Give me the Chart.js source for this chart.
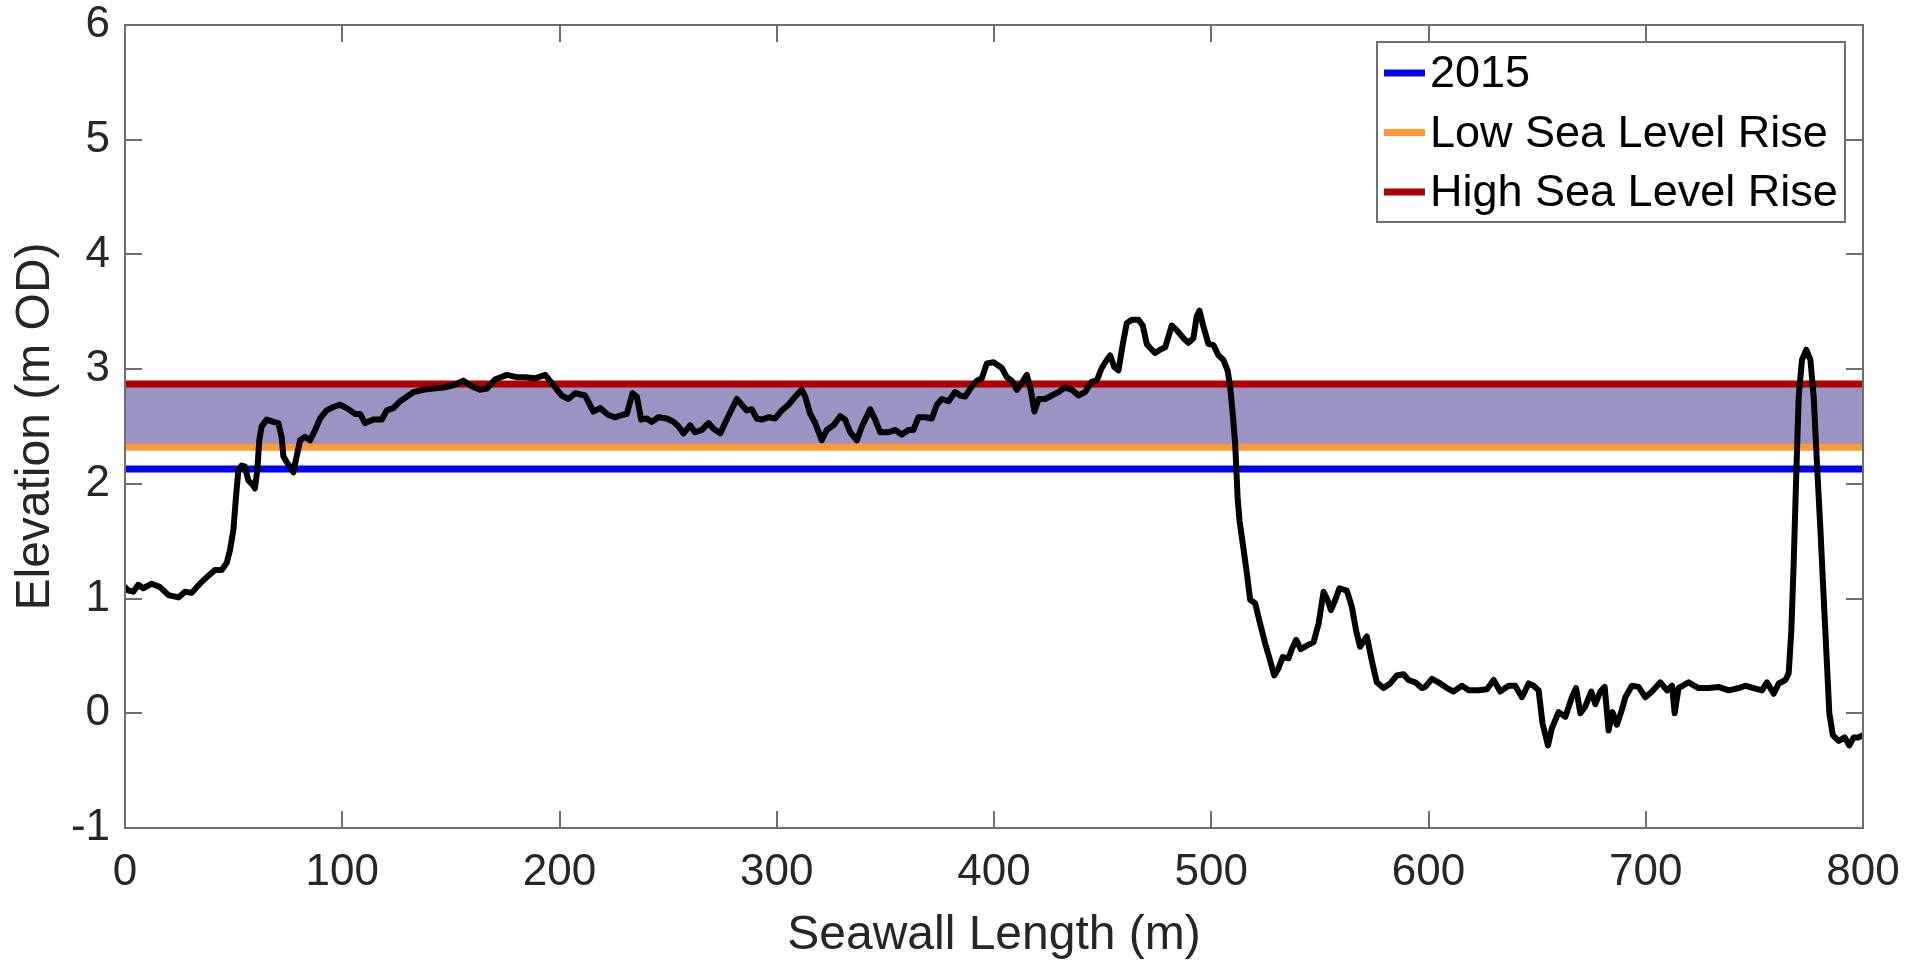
<!DOCTYPE html>
<html>
<head>
<meta charset="utf-8">
<title>Seawall elevation profile</title>
<script src="https://cdn.jsdelivr.net/npm/chart.js@4.4.1/dist/chart.umd.min.js"></script>
<style>
  html, body { margin: 0; padding: 0; background: #fff; }
  #wrap { width: 1921px; height: 965px; }
</style>
</head>
<body>
<div id="wrap"><canvas id="chart" width="1921" height="965"></canvas></div>
<script>
// Seawall crest profile (distance along wall in m, elevation in m OD)
const seawallX = [
  0, 1.5, 3.8, 6.1, 8.4, 12.3, 16.1, 20, 24.6, 27.6, 30.7, 34.5, 38.4, 41.4, 44.5, 46.8, 48.3, 49.9, 51.1, 52.2,
  53.7, 55.2, 56.8, 58.8, 59.8, 60.9, 61.8, 62.9, 65.2, 68.3, 70.6, 72.1, 72.9, 74.4, 76.0, 77.5, 79.0, 80.6, 82.8, 85.2,
  87.5, 89.8, 92.8, 95.9, 99.0, 102.1, 105.9, 108.2, 110.5, 114.3, 118.2, 120.5, 123.5, 126.6, 129.7, 132.7, 137.4, 142, 146.6, 151.2,
  155.8, 159.6, 163.4, 166.5, 170.3, 175.7, 180.3, 184.2, 188.8, 193.4, 197.2, 201.0, 204.1, 207.2, 211.8, 215.6, 218.7, 222.5, 225.6, 228.7,
  231.0, 233.6, 235.6, 237.6, 240.2, 242.5, 245.5, 249.4, 252.5, 254.8, 257.1, 260.1, 262.4, 265.5, 268.6, 270.9, 274.0, 276.2, 279.0, 281.6,
  283.9, 286.2, 288.5, 290.8, 293.1, 296.2, 299.3, 302.3, 305.4, 308.5, 311.5, 313.1, 315.4, 317.7, 320.7, 323.0, 326.1, 329.2, 331.5, 333.8,
  336.9, 339.2, 343.0, 345.3, 347.6, 351.4, 354.5, 357.6, 360.6, 362.9, 365.2, 368.3, 371.4, 373.7, 376.0, 379.1, 382.1, 384.4, 386.7, 389.8,
  392.1, 394.4, 396.7, 399.8, 403.6, 405.9, 408.2, 410.5, 412.8, 415.1, 416.9, 418.6, 420.5, 423.5, 426.6, 429.7, 432.7, 435.8, 438.9, 441.9,
  445.0, 447.3, 449.6, 451.9, 453.5, 455.3, 457.3, 459.3, 461.1, 463.4, 466.5, 468.5, 470.3, 472.6, 474.2, 476.5, 478.8, 481.8, 484.1, 487.2,
  489.5, 491.8, 493.3, 494.6, 496.4, 498.7, 501.0, 503.3, 505.6, 507.5, 508.7, 509.9, 511.0, 511.5, 512.1, 513.0, 514.5, 516.4, 517.9, 520.2,
  522.5, 524.8, 527.1, 529.0, 530.9, 532.9, 535.6, 537.1, 539.1, 541.2, 544.0, 547.1, 549.4, 551.7, 553.5, 555.1, 557.1, 559.0, 562.4, 564.7,
  566.7, 568.5, 571.6, 573.9, 576.2, 579.3, 582.4, 585.4, 588.5, 590.8, 593.9, 596.9, 598.5, 601.6, 605.4, 608.5, 611.5, 615.4, 618.5, 623.1,
  626.9, 630.0, 633.0, 636.9, 639.9, 643.0, 646.1, 648.4, 650.7, 652.5, 655.0, 656.8, 659.9, 663.0, 666.0, 667.9, 669.9, 672.2, 674.9, 676.8,
  679.1, 681.1, 682.9, 684.7, 686.7, 689.0, 690.6, 693.6, 696.7, 699.8, 702.9, 706.7, 709.8, 712.1, 713.3, 715.1, 719.7, 724.3, 729.0, 733.5,
  738.2, 742.8, 745.8, 749.7, 753.5, 755.8, 758.9, 761.2, 764.3, 765.8, 767.0, 768.1, 769.2, 770.4, 771.9, 773.9, 775.8, 777.3, 778.8, 780.4,
  781.9, 783.4, 784.5, 786.1, 788.8, 791.6, 793.7, 795.7, 798.0, 800
]
const elevation = [
  1.10, 1.07, 1.06, 1.12, 1.09, 1.13, 1.10, 1.03, 1.01, 1.06, 1.05, 1.13, 1.20, 1.25, 1.25, 1.31, 1.42, 1.60, 1.89, 2.12,
  2.16, 2.15, 2.03, 1.99, 1.96, 2.12, 2.38, 2.50, 2.56, 2.54, 2.53, 2.41, 2.24, 2.19, 2.15, 2.10, 2.24, 2.38, 2.41, 2.38,
  2.47, 2.57, 2.64, 2.67, 2.69, 2.66, 2.61, 2.61, 2.53, 2.56, 2.56, 2.64, 2.66, 2.72, 2.76, 2.80, 2.82, 2.83, 2.84, 2.86,
  2.90, 2.85, 2.82, 2.83, 2.91, 2.95, 2.93, 2.93, 2.92, 2.95, 2.86, 2.77, 2.74, 2.79, 2.77, 2.63, 2.66, 2.60, 2.58, 2.60,
  2.61, 2.79, 2.76, 2.56, 2.57, 2.54, 2.58, 2.57, 2.54, 2.50, 2.44, 2.51, 2.45, 2.47, 2.53, 2.48, 2.44, 2.53, 2.64, 2.74,
  2.69, 2.64, 2.65, 2.57, 2.56, 2.58, 2.57, 2.64, 2.69, 2.76, 2.82, 2.76, 2.61, 2.53, 2.38, 2.47, 2.51, 2.59, 2.56, 2.45,
  2.38, 2.50, 2.65, 2.56, 2.45, 2.45, 2.47, 2.43, 2.47, 2.47, 2.58, 2.58, 2.57, 2.69, 2.74, 2.72, 2.80, 2.77, 2.76, 2.85,
  2.90, 2.92, 3.05, 3.06, 3.01, 2.93, 2.90, 2.82, 2.88, 2.95, 2.82, 2.63, 2.74, 2.74, 2.77, 2.80, 2.84, 2.82, 2.77, 2.80,
  2.89, 2.90, 3.01, 3.08, 3.12, 3.02, 2.99, 3.22, 3.40, 3.43, 3.43, 3.38, 3.22, 3.17, 3.14, 3.17, 3.19, 3.38, 3.34, 3.27,
  3.23, 3.27, 3.46, 3.51, 3.37, 3.22, 3.21, 3.12, 3.08, 2.99, 2.85, 2.61, 2.35, 2.15, 1.89, 1.68, 1.48, 1.22, 0.99, 0.96,
  0.78, 0.61, 0.46, 0.33, 0.39, 0.49, 0.48, 0.56, 0.64, 0.56, 0.59, 0.62, 0.78, 1.06, 0.99, 0.90, 0.99, 1.09, 1.07, 0.93,
  0.72, 0.58, 0.67, 0.46, 0.27, 0.22, 0.26, 0.33, 0.34, 0.29, 0.27, 0.22, 0.23, 0.30, 0.26, 0.22, 0.19, 0.24, 0.20, 0.20,
  0.21, 0.29, 0.19, 0.24, 0.24, 0.14, 0.26, 0.24, 0.20, -0.09, -0.28, -0.13, 0.01, -0.03, 0.14, 0.22, 0.00, 0.06, 0.19, 0.08,
  0.19, 0.23, -0.15, 0.01, -0.10, 0.03, 0.14, 0.24, 0.23, 0.14, 0.19, 0.27, 0.20, 0.24, 0.00, 0.22, 0.27, 0.22, 0.22, 0.23,
  0.20, 0.22, 0.24, 0.22, 0.20, 0.27, 0.17, 0.26, 0.29, 0.35, 0.72, 1.31, 2.03, 2.76, 3.08, 3.17, 3.08, 2.76, 2.18, 1.60,
  1.01, 0.43, 0.00, -0.19, -0.24, -0.21, -0.28, -0.21, -0.21, -0.19
]

// Water levels (m OD)
const levelNames = ['2015', 'Low Sea Level Rise', 'High Sea Level Rise']
const levelValues = [2.13, 2.32, 2.87]
const levelColors = ['#0000ff', '#ff9933', '#b00000']
const bandColor = 'rgb(153,148,196)'

const xTicks = [0, 100, 200, 300, 400, 500, 600, 700, 800]
const yTicks = [-1, 0, 1, 2, 3, 4, 5, 6]

const FONT = '"Liberation Sans", Arial, Helvetica, sans-serif'
const AXIS_COLOR = '#6e6e6e'
const TEXT_COLOR = '#262626'
const TICK_LEN = 17

const xMin = xTicks[0], xMax = xTicks[xTicks.length - 1]

const levelDatasets = levelValues.map((v, i) => ({
  label: levelNames[i],
  data: [{ x: xMin, y: v }, { x: xMax, y: v }],
  borderColor: levelColors[i],
  backgroundColor: i === 2 ? bandColor : 'transparent',
  borderWidth: 7,
  pointRadius: 0,
  fill: i === 2 ? '-1' : false,
}))

// inward ticks on all four sides + box, like the original plot
const framePlugin = {
  id: 'frame',
  afterDatasetsDraw(chart) {
    const { ctx, chartArea: a, scales: { x, y } } = chart
    ctx.save()
    ctx.strokeStyle = AXIS_COLOR
    ctx.lineWidth = 2
    ctx.beginPath()
    x.ticks.forEach(t => {
      const px = Math.round(x.getPixelForValue(t.value))
      ctx.moveTo(px, a.bottom); ctx.lineTo(px, a.bottom - TICK_LEN)
      ctx.moveTo(px, a.top); ctx.lineTo(px, a.top + TICK_LEN)
    })
    y.ticks.forEach(t => {
      const py = Math.round(y.getPixelForValue(t.value))
      ctx.moveTo(a.left, py); ctx.lineTo(a.left + TICK_LEN, py)
      ctx.moveTo(a.right, py); ctx.lineTo(a.right - TICK_LEN, py)
    })
    ctx.stroke()
    ctx.strokeRect(a.left, a.top, a.right - a.left, a.bottom - a.top)
    ctx.restore()
  }
}

// legend box in the upper right corner of the plot
const boxLegend = {
  id: 'boxLegend',
  afterDraw(chart) {
    const { ctx, chartArea: a } = chart
    const w = 468, h = 180
    const left = a.right - 18 - w, top = a.top + 17
    ctx.save()
    ctx.fillStyle = '#fff'
    ctx.fillRect(left, top, w, h)
    ctx.strokeStyle = AXIS_COLOR
    ctx.lineWidth = 2
    ctx.strokeRect(left, top, w, h)
    ctx.font = '45px ' + FONT
    ctx.textBaseline = 'middle'
    ctx.textAlign = 'left'
    levelDatasets.forEach((ds, i) => {
      const cy = top + 31 + i * 59.5
      ctx.strokeStyle = ds.borderColor
      ctx.lineWidth = 7
      ctx.beginPath()
      ctx.moveTo(left + 7, cy); ctx.lineTo(left + 48, cy)
      ctx.stroke()
      ctx.fillStyle = '#000'
      ctx.fillText(ds.label, left + 53, cy + 2)
    })
    ctx.restore()
  }
}

new Chart(document.getElementById('chart'), {
  type: 'line',
  data: {
    datasets: [
      {
        label: 'Elevation',
        data: seawallX.map((x, i) => ({ x, y: elevation[i] })),
        borderColor: '#000',
        borderWidth: 6,
        pointRadius: 0,
        tension: 0,
        borderJoinStyle: 'round',
        borderCapStyle: 'round',
        fill: false,
      },
      ...levelDatasets,
    ],
  },
  options: {
    responsive: false,
    devicePixelRatio: 1,
    animation: false,
    layout: { padding: { left: 0, top: 25, right: 58, bottom: 0 } },
    plugins: { legend: { display: false }, tooltip: { enabled: false } },
    scales: {
      x: {
        type: 'linear',
        min: xMin,
        max: xMax,
        afterBuildTicks: s => { s.ticks = xTicks.map(v => ({ value: v })) },
        afterFit: s => { s.height = 137; s.paddingLeft = 0; s.paddingRight = 0 },
        grid: { display: false, drawTicks: false, tickLength: 0 },
        border: { display: false },
        ticks: { color: TEXT_COLOR, font: { family: FONT, size: 44, lineHeight: 1 }, padding: 23, maxRotation: 0, callback: v => String(v) },
        title: { display: true, text: 'Seawall Length (m)', color: TEXT_COLOR, font: { family: FONT, size: 48 }, padding: { top: 0, bottom: 0 } },
      },
      y: {
        type: 'linear',
        min: yTicks[0],
        max: yTicks[yTicks.length - 1],
        afterBuildTicks: s => { s.ticks = yTicks.map(v => ({ value: v })) },
        afterFit: s => { s.width = 125; s.paddingTop = 0; s.paddingBottom = 0 },
        grid: { display: false, drawTicks: false, tickLength: 0 },
        border: { display: false },
        ticks: { color: TEXT_COLOR, font: { family: FONT, size: 44, lineHeight: 1 }, padding: 15, callback: v => String(v) },
        title: { display: true, text: 'Elevation (m OD)', color: TEXT_COLOR, font: { family: FONT, size: 48 }, padding: { top: 7, bottom: 0 } },
      },
    },
  },
  plugins: [framePlugin, boxLegend],
})
</script>
</body>
</html>
